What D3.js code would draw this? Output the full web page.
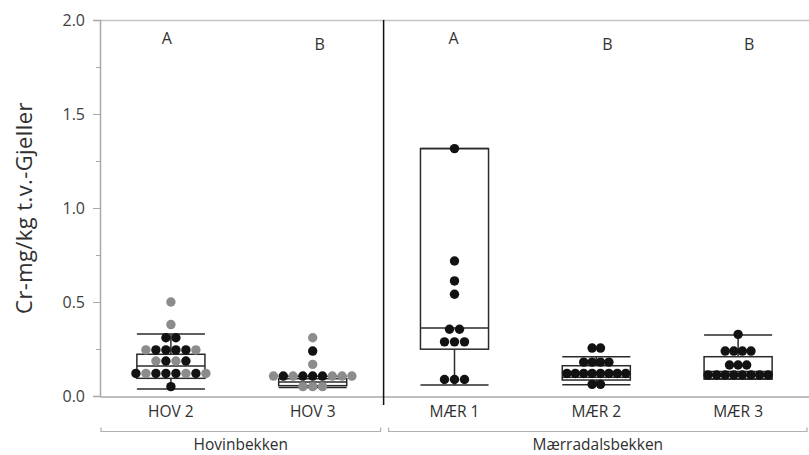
<!DOCTYPE html>
<html><head><meta charset="utf-8">
<script src="https://cdn.jsdelivr.net/npm/d3@7"></script>
<style>body{margin:0;background:#fff} svg{display:block} text{font-family:"Open Sans","Noto Sans",sans-serif}</style>
</head><body><svg id="c" width="809" height="455"></svg>
<script>
const categories = ["HOV 2","HOV 3","MÆR 1","MÆR 2","MÆR 3"];
const groups = ["Hovinbekken","Mærradalsbekken"];
const groupOf = [0,0,1,1,1];
const letters = ["A","B","A","B","B"];
const yTicks = [0,0.5,1.0,1.5,2.0];
const yMinor = [0.25,0.75,1.25,1.75];

// point values (rows of equal values are laid out side by side) and colour codes (b = black, g = grey)
const hov2Values = [0.50,0.38,0.31,0.31,0.245,0.245,0.245,0.245,0.245,0.245,0.186,0.186,0.186,0.186,0.12,0.12,0.12,0.12,0.12,0.12,0.12,0.12,0.05];
const hov2Colors = ["g","g","b","b","g","b","b","b","b","g","g","b","g","b","b","g","b","b","b","g","b","g","b"];
const hov3Values = [0.31,0.239,0.168,0.106,0.106,0.106,0.106,0.106,0.106,0.106,0.106,0.106,0.05,0.05,0.05];
const hov3Colors = ["g","b","g","g","b","g","b","b","b","g","g","g","g","g","g"];
const maer1Values = [1.316,0.718,0.612,0.541,0.355,0.355,0.288,0.288,0.288,0.088,0.088,0.088];
const maer1Colors = ["b","b","b","b","b","b","b","b","b","b","b","b"];
const maer2Values = [0.255,0.255,0.18,0.18,0.18,0.18,0.12,0.12,0.12,0.12,0.12,0.12,0.12,0.12,0.062,0.062];
const maer2Colors = ["b","b","b","b","b","b","b","b","b","b","b","b","b","b","b","b"];
const maer3Values = [0.328,0.239,0.239,0.239,0.239,0.165,0.165,0.165,0.112,0.112,0.112,0.112,0.112,0.112,0.112,0.112];
const maer3Colors = ["b","b","b","b","b","b","b","b","b","b","b","b","b","b","b","b"];

// box plot statistics per category
const boxQ1 = [0.094,0.055,0.249,0.085,0.09];
const boxMedian = [0.16,0.075,0.362,0.10,0.13];
const boxQ3 = [0.222,0.092,1.316,0.161,0.209];
const whiskerLow = [0.037,0.045,0.058,0.06,0.09];
const whiskerHigh = [0.33,0.105,1.316,0.209,0.324];

(function () {
// ---- styling ----
const mLeft = 100, mRight = 809, mTop = 20, mBottom = 396;
const colorMap = {b:"#121212", g:"#8c8c8c"};
const spacingByCat = [10, 9.8, 10, 8.4, 8.6];
const letterDx = [-4, 7, -1, 11, 11];
const letterY = {A: 44, B: 50};
const R = 4.7;
const FONT = "'Open Sans','Noto Sans',sans-serif";

const svg = d3.select("#c");
const x = d3.scaleBand().domain(categories).range([mLeft, mRight]).paddingInner(0).paddingOuter(0);
const y = d3.scaleLinear().domain([0, 2]).range([mBottom, mTop]);
const cx = c => x(c) + x.bandwidth() / 2;
const boxW = x.bandwidth() * 0.48;

// frame
svg.append("line").attr("x1", mLeft).attr("x2", mRight).attr("y1", mTop + 0.5).attr("y2", mTop + 0.5).attr("stroke", "#c4c4c4").attr("stroke-width", 1.5);

// y axis
const yAxis = d3.axisLeft(y).tickValues(yTicks).tickFormat(d3.format(".1f")).tickSize(7).tickPadding(8);
const gy = svg.append("g").attr("transform", `translate(${mLeft},0)`).call(yAxis);
gy.select(".domain").attr("stroke", "#a8a8a8").attr("stroke-width", 1.5);
gy.selectAll(".tick line").attr("stroke", "#a8a8a8");
gy.selectAll(".tick text").attr("fill", "#404040").style("font-size", "16px").style("font-family", FONT);
const gyMinor = svg.append("g").attr("transform", `translate(${mLeft},0)`).call(d3.axisLeft(y).tickValues(yMinor).tickSize(4).tickFormat(""));
gyMinor.select(".domain").remove();
gyMinor.selectAll(".tick line").attr("stroke", "#a8a8a8");

// x axis line
const xAxis = d3.axisBottom(x).tickSize(0).tickPadding(9);
const gx = svg.append("g").attr("transform", `translate(0,${mBottom + 0.5})`).call(xAxis);
gx.select(".domain").attr("stroke", "#a8a8a8").attr("stroke-width", 1.5);
gx.selectAll(".tick text").attr("fill", "#303030").style("font-size", "15.5px").style("font-family", FONT);

// group divider
const divX = x(categories[2]);
svg.append("line").attr("x1", divX).attr("x2", divX).attr("y1", mTop).attr("y2", mBottom + 9).attr("stroke", "#111").attr("stroke-width", 1.5);

// group brackets
groups.forEach((g, gi) => {
  const cats = categories.filter((c, i) => groupOf[i] === gi);
  const x0 = x(cats[0]) + (gi === 0 ? 1 : 5);
  const x1 = x(cats[cats.length - 1]) + x.bandwidth() - (gi === 0 ? 3 : 2);
  const by = 431.5;
  svg.append("path").attr("d", `M${x0},${by - 4}V${by}H${x1}V${by - 4}`).attr("fill", "none").attr("stroke", "#b0b0b0").attr("stroke-width", 1.2);
  svg.append("text").attr("x", (x0 + x1) / 2).attr("y", 450).attr("text-anchor", "middle").attr("fill", "#303030").style("font-size", "15.5px").text(g);
});

// y title
svg.append("text").attr("transform", `translate(32,208) rotate(-90)`).attr("text-anchor", "middle").attr("fill", "#303030")
  .style("font-size", "22px").style("letter-spacing", "0.4px").text("Cr-mg/kg t.v.-Gjeller");

// box plots
const boxG = svg.append("g").attr("stroke", "#2a2a2a").attr("stroke-width", 1.5).attr("fill", "none");
categories.forEach((c, i) => {
  const xc = cx(c);
  boxG.append("rect").attr("x", xc - boxW / 2).attr("width", boxW).attr("y", y(boxQ3[i])).attr("height", y(boxQ1[i]) - y(boxQ3[i]));
  boxG.append("line").attr("x1", xc - boxW / 2).attr("x2", xc + boxW / 2).attr("y1", y(boxMedian[i])).attr("y2", y(boxMedian[i]));
  boxG.append("line").attr("x1", xc).attr("x2", xc).attr("y1", y(boxQ3[i])).attr("y2", y(whiskerHigh[i]));
  boxG.append("line").attr("x1", xc).attr("x2", xc).attr("y1", y(boxQ1[i])).attr("y2", y(whiskerLow[i]));
  [whiskerLow[i], whiskerHigh[i]].forEach(w => boxG.append("line").attr("x1", xc - boxW / 2).attr("x2", xc + boxW / 2).attr("y1", y(w)).attr("y2", y(w)));
});

// points
const series = [[hov2Values, hov2Colors],[hov3Values, hov3Colors],[maer1Values, maer1Colors],[maer2Values, maer2Colors],[maer3Values, maer3Colors]];
const pts = [];
series.forEach(([vals, cols], ci) => {
  const rows = d3.group(vals.map((v, k) => ({v, c: cols[k]})), d => d.v);
  for (const [v, arr] of rows) arr.forEach((d, k) => pts.push({v, c: d.c, ci, dx: (k - (arr.length - 1) / 2) * spacingByCat[ci]}));
});
svg.append("g").selectAll("circle").data(pts).join("circle")
  .attr("cx", d => cx(categories[d.ci]) + d.dx)
  .attr("cy", d => y(d.v))
  .attr("r", R)
  .attr("fill", d => colorMap[d.c]);

// letters
categories.forEach((c, i) => {
  svg.append("text").attr("x", cx(c) + letterDx[i]).attr("y", letterY[letters[i]]).attr("text-anchor", "middle").attr("fill", "#333").style("font-size", "16px").text(letters[i]);
});
})();
</script></body></html>
